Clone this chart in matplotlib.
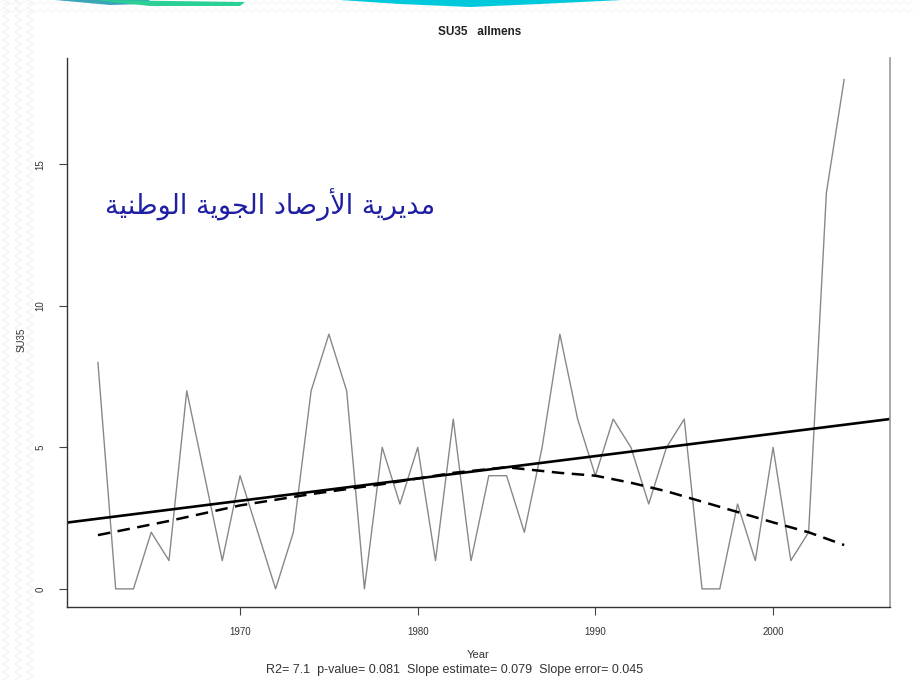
import numpy as np
import matplotlib
matplotlib.use("Agg")
import matplotlib.pyplot as plt
from matplotlib.patches import Polygon
from matplotlib.lines import Line2D

# SU35 index, station "allmens", one value per year
years = np.arange(1962, 2005)
su35 = [8, 0, 0, 2, 1, 7, 4, 1, 4, 2,
        0, 2, 7, 9, 7, 0, 5, 3, 5, 1,
        6, 1, 4, 4, 2, 5, 9, 6, 4, 6,
        5, 3, 5, 6, 0, 0, 3, 1, 5, 1,
        2, 14, 18]

# smoothed curve (dashed)
smooth_years = [1962, 1966, 1970, 1974, 1978, 1982, 1985, 1988, 1990, 1992,
                1994, 1997, 2000, 2002, 2004]
smooth_vals = [1.9, 2.4, 2.95, 3.35, 3.7, 4.1, 4.3, 4.1, 4.0, 3.75,
               3.45, 2.9, 2.35, 2.0, 1.55]

slope_estimate = 0.079
x_ticks = [1970, 1980, 1990, 2000]
y_ticks = [0, 5, 10, 15]

title = "SU35   allmens"
subtitle = "R2= 7.1  p-value= 0.081  Slope estimate= 0.079  Slope error= 0.045"

# Arabic heading, written in presentation forms in display order
heading = ("\uFE94\uFEF4\uFEE8\uFEC3\uFEEE\uFEDF\uFE8D "
           "\uFE94\uFEF3\uFEEE\uFEA0\uFEDF\uFE8D "
           "\uFEA9\uFE8E\uFEBB\uFEAD\uFEF7\uFE8D "
           "\uFE94\uFEF3\uFEAE\uFEF3\uFEAA\uFEE3")

plt.rcParams['font.family'] = ['Liberation Sans', 'DejaVu Sans']

W, H = 913, 680
fig = plt.figure(figsize=(W / 100, H / 100), dpi=100)
fig.patch.set_facecolor('white')


def fx(px):
    return px / W


def fy(py):
    return 1 - py / H


# faint zigzag texture along the left edge and the top
for cx in [6, 18, 30]:
    ys = np.arange(0, H + 8, 4)
    xs = cx + np.where((ys // 4) % 2 == 0, -3, 3)
    fig.add_artist(Line2D(fx(xs), fy(ys), color='#f3f3f3', lw=0.8))
for cy in [3, 11]:
    xs = np.arange(0, W + 8, 4)
    ys = cy + np.where((xs // 4) % 2 == 0, -2, 2)
    fig.add_artist(Line2D(fx(xs), fy(ys), color='#f5f5f5', lw=0.8, zorder=0))

# coloured swooshes at the top edge
swooshes = [
    ([(340, 0), (622, 0), (540, 4), (470, 7), (400, 4)], '#00c9dc'),
    ([(55, 0), (150, 0), (145, 4), (110, 5)], '#3aa6b8'),
    ([(95, 0), (245, 2), (240, 6), (150, 6)], '#2bd194'),
]
for pts, col in swooshes:
    fig.add_artist(Polygon([(fx(a), fy(b)) for a, b in pts], closed=True,
                           transform=fig.transFigure, facecolor=col,
                           edgecolor='none', zorder=1))

left, right, top, bottom = 67, 890, 58, 607
ax = fig.add_axes([fx(left), fy(bottom), fx(right - left), (bottom - top) / H])
ax.set_facecolor('none')

ax.plot(years, su35, color='#888888', lw=1.0)

# trend line through the mean with the reported slope
xm, ym = np.mean(years), np.mean(su35)
ax.axline((xm, ym), slope=slope_estimate, color='black', lw=1.9)

ax.plot(smooth_years, smooth_vals, color='black', lw=1.8,
        linestyle=(0, (5, 3)))

ax.set_xlim(1960.26, 2006.58)
ax.set_ylim(-0.64, 18.76)

ax.set_xticks(x_ticks)
ax.set_xticklabels([str(t) for t in x_ticks], fontsize=7, color='#333333')
ax.set_yticks(y_ticks)
ax.set_yticklabels([str(t) for t in y_ticks], fontsize=7, color='#333333',
                   rotation=90, va='center')
ax.tick_params(direction='out', length=5.5, width=0.8, color='#444444')
ax.tick_params(axis='x', pad=9)
ax.tick_params(axis='y', pad=10)

ax.spines['top'].set_visible(False)
for s in ['left', 'bottom']:
    ax.spines[s].set_color('#333333')
    ax.spines[s].set_linewidth(1.0)
ax.spines['right'].set_color('#999999')
ax.spines['right'].set_linewidth(1.2)

fig.text(fx(480), fy(32), title, ha='center', va='center', fontsize=8.5,
         fontweight='bold', color='#222222')
fig.text(fx(478), fy(655), "Year", ha='center', va='center', fontsize=8,
         color='#333333')
fig.text(fx(455), fy(670), subtitle, ha='center', va='center', fontsize=9,
         color='#333333')
fig.text(fx(22), fy(340), "SU35", ha='center', va='center', fontsize=7,
         rotation=90, color='#333333')

fig.text(fx(435), fy(205), heading, ha='right', va='center', fontsize=19.5,
         color='#1f1fa3', family=['DejaVu Sans'])

fig.savefig('out.png', dpi=100)
